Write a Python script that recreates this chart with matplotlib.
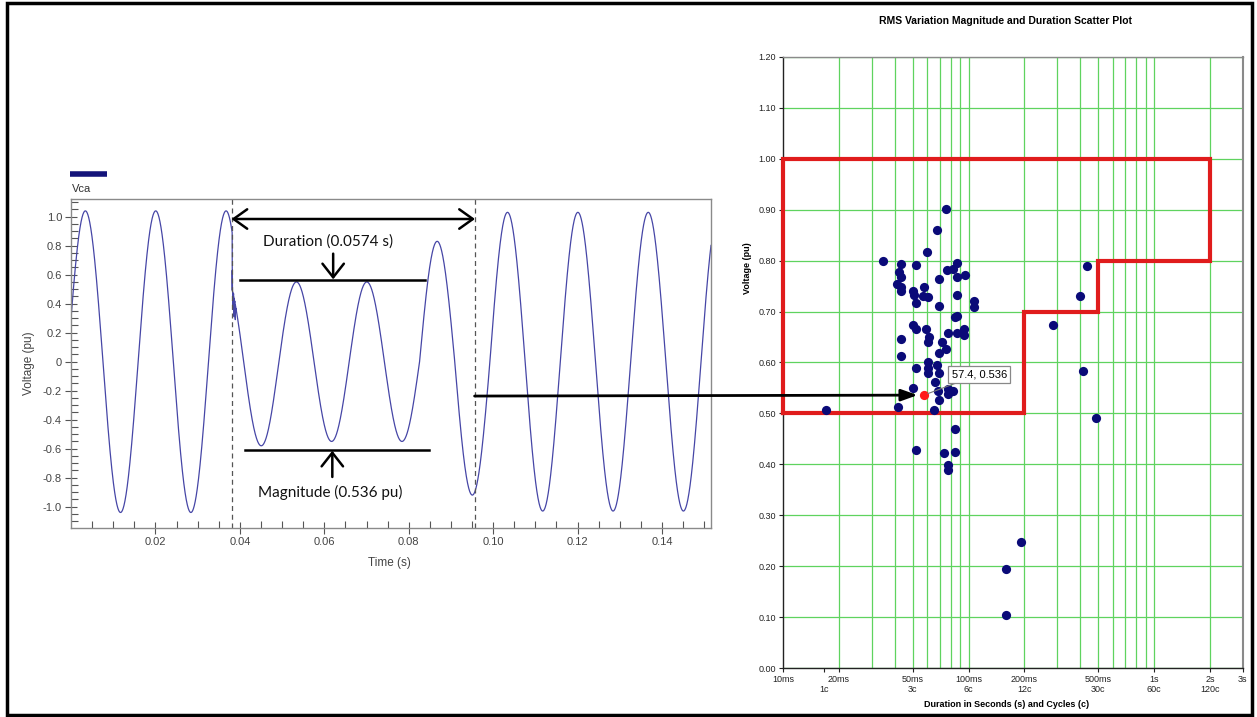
import numpy as np
import matplotlib
matplotlib.use("Agg")
import matplotlib.pyplot as plt
from matplotlib.patches import Rectangle, ConnectionPatch
from matplotlib.ticker import FixedLocator, NullFormatter

# ---------------- data: waveform (left) ----------------
freq_hz = 60.0
first_peak_t = 0.0034          # time of first positive peak (s)
# signed extremum value of each successive half-cycle
half_cycle_peaks = [1.04, -1.04, 1.04, -1.04, 1.04, -0.58, 0.55, -0.55, 0.55,
                    -0.55, 0.83, -0.92, 1.03, -1.03, 1.03, -1.03, 1.03, -1.03, 1.03]
sag_start_s = 0.0382
sag_end_s = 0.0956
sag_duration_s = 0.0574
sag_magnitude_pu = 0.536
# transient right after sag onset
transient_t = [0.03822, 0.03836, 0.03850, 0.03864, 0.03878, 0.03892, 0.03906]
transient_v = [0.63, 0.36, 0.47, 0.31, 0.41, 0.29, 0.35]
arrow_level_pu = -0.237
top_line_pu = 0.563
bottom_line_pu = -0.609

# ---------------- data: scatter (right) ----------------
dur_ms = [75.5, 67.3, 59.5, 34.7, 43.4, 52.1, 86.9, 76.2, 82.1, 42.4, 86.3, 95.3,
          69.2, 43.4, 41.3, 43.4, 43.4, 57.7, 50.0, 51.0, 57.0, 60.6, 52.4, 86.6,
          69.2, 107.3, 107.3, 84.5, 86.6, 50.0, 52.1, 58.7, 61.3, 60.6, 77.8, 86.9,
          94.8, 94.8, 43.3, 71.9, 75.3, 69.5, 43.3, 60.6, 60.6, 67.3, 52.1, 60.6,
          69.6, 65.9, 50.0, 68.8, 77.8, 79.9, 82.7, 77.8, 69.2, 41.8, 65.2, 17.05,
          84.5, 52.0, 74.0, 84.5, 77.8, 77.8,
          432.7, 398.0, 283.8, 414.9, 484.0, 191.0, 158.4, 158.4]
volt_pu = [0.901, 0.860, 0.817, 0.800, 0.793, 0.791, 0.796, 0.781, 0.783, 0.778, 0.767, 0.771,
           0.763, 0.767, 0.754, 0.749, 0.740, 0.749, 0.740, 0.733, 0.730, 0.729, 0.716, 0.732,
           0.711, 0.721, 0.709, 0.689, 0.692, 0.673, 0.665, 0.665, 0.651, 0.640, 0.658, 0.658,
           0.665, 0.654, 0.647, 0.640, 0.626, 0.619, 0.612, 0.600, 0.589, 0.595, 0.590, 0.580,
           0.579, 0.562, 0.549, 0.544, 0.548, 0.545, 0.545, 0.539, 0.526, 0.512, 0.506, 0.507,
           0.469, 0.429, 0.423, 0.424, 0.398, 0.389,
           0.789, 0.730, 0.673, 0.583, 0.491, 0.247, 0.195, 0.105]
event_ms = 57.4
event_pu = 0.536

curve_ms = [10, 10, 2000, 2000, 500, 500, 200, 200, 10]
curve_pu = [0.5, 1.0, 1.0, 0.8, 0.8, 0.7, 0.7, 0.5, 0.5]

x_grid_ms = [20, 30, 40, 50, 60, 70, 80, 90, 100, 200, 300, 400, 500, 600, 700,
             800, 900, 1000, 2000]
x_tick_ms = [10, 1000 / 60, 20, 50, 100, 200, 500, 1000, 2000, 3000]
x_tick_labels = ["10ms", "\n1c", "20ms", "50ms\n3c", "100ms\n6c", "200ms\n12c",
                 "500ms\n30c", "1s\n60c", "2s\n120c", "3s"]
y_ticks_r = [0.0, 0.1, 0.2, 0.3, 0.4, 0.5, 0.6, 0.7, 0.8, 0.9, 1.0, 1.1, 1.2]

# ---------------- figure ----------------
W, H = 1257, 717
fig = plt.figure(figsize=(W / 100, H / 100), dpi=100)
fig.patch.set_facecolor("white")

def fx(px):
    return px / W

def fy(py):
    return 1 - py / H

# outer frame
fig.patches.append(Rectangle((fx(6.5), fy(715)), fx(1251.5) - fx(6.5), fy(2.5) - fy(715),
                             transform=fig.transFigure, fill=False, ec="black", lw=2.5))

# ---------- left axes ----------
axL = fig.add_axes([fx(71), fy(528), fx(711) - fx(71), fy(199) - fy(528)])
T = 1 / freq_hz
t = np.linspace(0, 0.1516, 4000)
k = np.clip(np.round((t - first_peak_t) / (T / 2)).astype(int), 0, len(half_cycle_peaks) - 1)
amp = np.abs(np.array(half_cycle_peaks))[k]
onset_idx = 4
amp = np.where((k == onset_idx) & (t >= sag_start_s), abs(half_cycle_peaks[onset_idx + 1]), amp)
v = amp * np.cos(2 * np.pi * freq_hz * (t - first_peak_t))
tt = np.concatenate([t, transient_t])
vv = np.concatenate([v, transient_v])
order = np.argsort(tt, kind="stable")
axL.plot(tt[order], vv[order], color="#4646a6", lw=0.9)

axL.set_xlim(0, 0.1516)
axL.set_ylim(-1.147, 1.122)
axL.set_xticks([0.02, 0.04, 0.06, 0.08, 0.10, 0.12, 0.14])
axL.set_xticklabels(["0.02", "0.04", "0.06", "0.08", "0.10", "0.12", "0.14"])
axL.xaxis.set_minor_locator(FixedLocator(np.arange(0.005, 0.151, 0.005)))
yt = [-1.0, -0.8, -0.6, -0.4, -0.2, 0.0, 0.2, 0.4, 0.6, 0.8, 1.0]
axL.set_yticks(yt)
axL.set_yticklabels(["-1.0", "-0.8", "-0.6", "-0.4", "-0.2", "0", "0.2", "0.4", "0.6", "0.8", "1.0"])
axL.yaxis.set_minor_locator(FixedLocator(np.arange(-1.10, 1.11, 0.05)))
axL.tick_params(which="major", direction="inout", length=9, width=0.8, color="#555555",
                labelsize=8, labelcolor="#444444", pad=2)
axL.tick_params(which="minor", direction="in", length=5, width=0.8, color="#555555")
for lab in axL.get_xticklabels() + axL.get_yticklabels():
    lab.set_family("Liberation Sans")
for s in axL.spines.values():
    s.set_color("#8a8a8a")
    s.set_linewidth(1.0)
axL.set_xlabel("Time (s)", fontsize=8.5, color="#444444", family="Liberation Sans", labelpad=3)
axL.set_ylabel("Voltage (pu)", fontsize=8.5, color="#444444", family="Liberation Sans", labelpad=6)
axL.xaxis.set_label_coords(0.498, -0.088)

# legend
axL.plot([-0.002, 0.057], [1.076, 1.076], transform=axL.transAxes, clip_on=False,
         color="#14147a", lw=4, solid_capstyle="butt")
axL.text(0.002, 1.031, "Vca", transform=axL.transAxes, fontsize=8, color="#333333",
         family="Liberation Sans", va="center", ha="left")

# dashed limits
for xs in (sag_start_s, sag_end_s):
    axL.axvline(xs, color="#555555", lw=0.9, ls=(0, (4, 3)))

ann_font = "Lato"
axL.annotate("", xy=(sag_start_s - 0.0002, 0.984), xytext=(sag_end_s + 0.0001, 0.984),
             arrowprops=dict(arrowstyle="<->,head_length=0.7,head_width=0.5", lw=1.8,
                             color="black", shrinkA=0, shrinkB=0, mutation_scale=14))
axL.text(0.0609, 0.832, "Duration (%.4f s)" % sag_duration_s, fontsize=11, family=ann_font,
         ha="center", va="center", color="#111111")
axL.plot([0.0401, 0.0838], [top_line_pu, top_line_pu], color="black", lw=1.8)
axL.annotate("", xy=(0.0621, top_line_pu + 0.005), xytext=(0.0621, 0.745),
             arrowprops=dict(arrowstyle="->,head_length=0.7,head_width=0.55", lw=1.8,
                             color="black", shrinkA=0, shrinkB=0, mutation_scale=14))
axL.plot([0.0411, 0.0848], [bottom_line_pu, bottom_line_pu], color="black", lw=1.8)
axL.annotate("", xy=(0.0619, bottom_line_pu - 0.005), xytext=(0.0619, -0.795),
             arrowprops=dict(arrowstyle="->,head_length=0.7,head_width=0.55", lw=1.8,
                             color="black", shrinkA=0, shrinkB=0, mutation_scale=14))
axL.text(0.0614, -0.905, "Magnitude (%.3f pu)" % sag_magnitude_pu, fontsize=11, family=ann_font,
         ha="center", va="center", color="#111111")

# ---------- right axes ----------
axR = fig.add_axes([fx(783), fy(668.3), fx(1242.7) - fx(783), fy(56.7) - fy(668.3)])
axR.set_xscale("log")
axR.set_xlim(10, 3000)
axR.set_ylim(0, 1.2)
axR.xaxis.remove_overlapping_locs = False
axR.xaxis.set_major_locator(FixedLocator(x_tick_ms))
axR.set_xticklabels(x_tick_labels)
axR.xaxis.set_minor_locator(FixedLocator(x_grid_ms))
axR.xaxis.set_minor_formatter(NullFormatter())
axR.set_yticks(y_ticks_r)
axR.set_yticklabels(["%.2f" % y for y in y_ticks_r])
axR.grid(which="minor", axis="x", color="#5fd35f", lw=0.9)
axR.grid(which="major", axis="y", color="#5fd35f", lw=0.9)
axR.grid(which="major", axis="x", visible=False)
axR.set_axisbelow(True)
axR.tick_params(which="major", direction="out", length=3, width=0.8, color="#222222",
                labelsize=6.5, labelcolor="#222222", pad=2)
axR.tick_params(which="minor", length=0)
for lab in axR.get_xticklabels() + axR.get_yticklabels():
    lab.set_family("Liberation Sans")
    lab.set_linespacing(1.1)
axR.spines["left"].set_color("#222222")
axR.spines["bottom"].set_color("#222222")
axR.spines["top"].set_color("#8a8a8a")
axR.spines["right"].set_color("#8a8a8a")
for s in axR.spines.values():
    s.set_linewidth(1.0)
axR.spines["right"].set_linewidth(1.5)

axR.plot(curve_ms, curve_pu, color="#e01c1c", lw=3, solid_joinstyle="miter", clip_on=False, zorder=3)
axR.scatter(dur_ms, volt_pu, s=44, color="#0a0a78", zorder=4, linewidths=0)
axR.scatter([event_ms], [event_pu], s=44, color="#ff1a1a", zorder=5, linewidths=0)
axR.annotate("%.1f, %.3f" % (event_ms, event_pu), xy=(event_ms, event_pu),
             xytext=(40, 15), textcoords="offset points", fontsize=8, family="Liberation Sans",
             ha="center", va="center",
             bbox=dict(boxstyle="square,pad=0.3", fc="white", ec="#888888", lw=0.9),
             arrowprops=dict(arrowstyle="-", color="#777777", lw=0.8, shrinkA=0, shrinkB=3),
             zorder=6)

title_y = 1.0 + (56.7 - 21) / (668.3 - 56.7)
axR.set_title("RMS Variation Magnitude and Duration Scatter Plot", fontsize=7.5,
              fontweight="bold", family="Liberation Sans", x=0.484, y=title_y, va="center", pad=0)
axR.set_xlabel("Duration in Seconds (s) and Cycles (c)", fontsize=6.5, fontweight="bold",
               family="Liberation Sans")
axR.xaxis.set_label_coords((1007 - 783) / (1242.7 - 783), -(700 - 668.3) / (668.3 - 56.7))
axR.set_ylabel("Voltage (pu)", fontsize=6.5, fontweight="bold", family="Liberation Sans")
axR.yaxis.set_label_coords(-(783 - 752) / (1242.7 - 783), (668.3 - 268) / (668.3 - 56.7))

# connecting arrow from waveform to event point
con = ConnectionPatch(xyA=(sag_end_s, arrow_level_pu), coordsA=axL.transData,
                      xyB=(event_ms, event_pu), coordsB=axR.transData,
                      arrowstyle="-|>,head_length=0.7,head_width=0.25", mutation_scale=14,
                      lw=2, color="black", shrinkA=0, shrinkB=4.5, zorder=7)
fig.add_artist(con)

fig.savefig("out.png", dpi=100, facecolor="white")
